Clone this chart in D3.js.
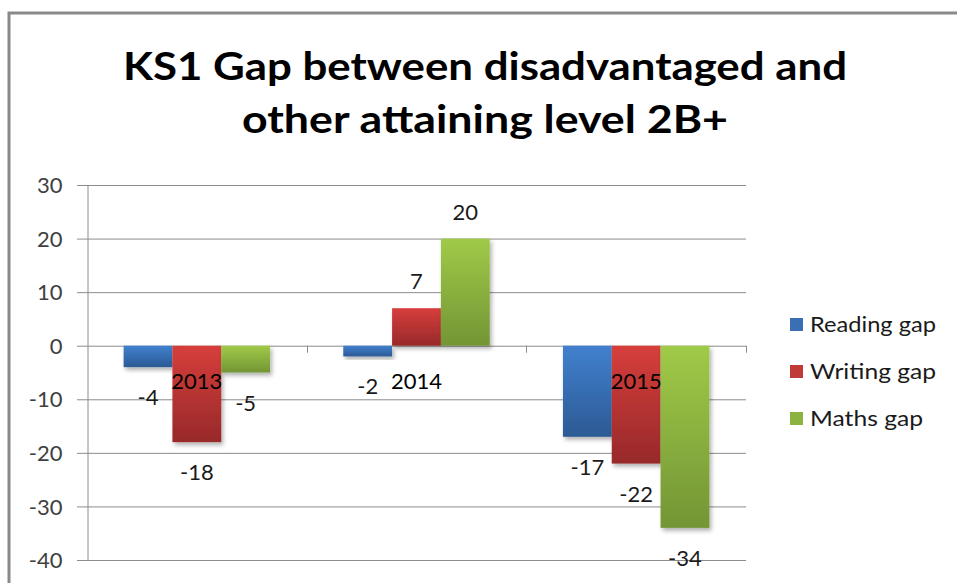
<!DOCTYPE html>
<html>
<head>
<meta charset="utf-8">
<script src="https://cdn.jsdelivr.net/npm/d3@7/dist/d3.min.js"></script>
<style>
  html, body { margin: 0; padding: 0; background: #fff; }
  svg { display: block; }
  text { font-family: Lato, "Open Sans", sans-serif; }
</style>
</head>
<body>
<svg id="chart" width="957" height="583"></svg>
<script>
const titleLines = ["KS1 Gap between disadvantaged and", "other attaining level 2B+"];
const categories = ["2013", "2014", "2015"];
const seriesNames = ["Reading gap", "Writing gap", "Maths gap"];
const readingGap = [-4, -2, -17];
const writingGap = [-18, 7, -22];
const mathsGap = [-5, 20, -34];
const yTicks = [30, 20, 10, 0, -10, -20, -30, -40];

const seriesValues = [readingGap, writingGap, mathsGap];
const colors = [
  { top: "#4180cf", bottom: "#2c5a94", legend: "#3a6fb5" },
  { top: "#d63e3b", bottom: "#98292a", legend: "#c03a37" },
  { top: "#a0ca48", bottom: "#739535", legend: "#8cb33f" }
];

const svg = d3.select("#chart");
const defs = svg.append("defs");
colors.forEach((c, i) => {
  const g = defs.append("linearGradient").attr("id", "grad" + i)
    .attr("x1", 0).attr("y1", 0).attr("x2", 0).attr("y2", 1);
  g.append("stop").attr("offset", "0%").attr("stop-color", c.top);
  g.append("stop").attr("offset", "100%").attr("stop-color", c.bottom);
});
const f = defs.append("filter").attr("id", "shadow")
  .attr("x", "-20%").attr("y", "-20%").attr("width", "150%").attr("height", "150%");
f.append("feDropShadow").attr("dx", 2).attr("dy", 3).attr("stdDeviation", 2)
  .attr("flood-color", "#000").attr("flood-opacity", 0.3);

// outer border
svg.append("path")
  .attr("d", "M9,583 V13 H957")
  .attr("fill", "none").attr("stroke", "#8a8a8a").attr("stroke-width", 3);

// title
const titleBaselines = [80, 133];
const titleWidths = [724, 486];
titleLines.forEach((t, i) => {
  svg.append("text")
    .attr("x", 485).attr("y", titleBaselines[i])
    .attr("text-anchor", "middle")
    .attr("font-size", 39).attr("font-weight", "bold")
    .attr("fill", "#000")
    .attr("textLength", titleWidths[i]).attr("lengthAdjust", "spacingAndGlyphs")
    .text(t);
});

const plotLeft = 87, plotRight = 746, plotTop = 185, plotBottom = 560;
const y = d3.scaleLinear().domain([-40, 30]).range([plotBottom, plotTop]);
const x0 = d3.scaleBand().domain(categories).range([plotLeft, plotRight]).padding(0);
const x1 = d3.scaleBand().domain(d3.range(3)).range([0, x0.bandwidth()])
  .paddingInner(0).paddingOuter(0.75);

// gridlines
svg.append("g").selectAll("line").data(yTicks).join("line")
  .attr("x1", plotLeft - 10).attr("x2", plotRight)
  .attr("y1", d => y(d) + 0.5).attr("y2", d => y(d) + 0.5)
  .attr("stroke", "#8c8c8c").attr("stroke-width", 1);

// bars
const groups = svg.append("g").selectAll("g").data(categories).join("g")
  .attr("transform", d => `translate(${x0(d)},0)`);
groups.selectAll("rect")
  .data((d, ci) => seriesValues.map((vals, si) => ({ si, v: vals[ci] })))
  .join("rect")
  .attr("x", d => x1(d.si))
  .attr("width", x1.bandwidth())
  .attr("y", d => Math.min(y(d.v), y(0)))
  .attr("height", d => Math.abs(y(d.v) - y(0)))
  .attr("fill", d => `url(#grad${d.si})`)
  .attr("filter", "url(#shadow)");

// y axis
const yAxis = d3.axisLeft(y).tickValues(yTicks).tickSize(0).tickPadding(0)
  .tickFormat(d => String(d));
const ya = svg.append("g").attr("transform", `translate(${plotLeft + 0.5},0)`).call(yAxis);
ya.select(".domain").attr("stroke", "#8c8c8c");
ya.selectAll("text")
  .attr("x", -25).attr("dy", "0.35em")
  .attr("font-family", "Lato, 'Open Sans', sans-serif")
  .attr("font-size", 22).attr("fill", "#404040");

// category tick marks on the zero line
svg.append("g").selectAll("line")
  .data(categories.map(c => x0(c) + x0.bandwidth()))
  .join("line")
  .attr("x1", d => Math.round(d) + 0.5).attr("x2", d => Math.round(d) + 0.5)
  .attr("y1", y(0)).attr("y2", y(0) + 7)
  .attr("stroke", "#8c8c8c");

// data labels
groups.selectAll("text.dl")
  .data((d, ci) => seriesValues.map((vals, si) => ({ si, v: vals[ci] })))
  .join("text").attr("class", "dl")
  .attr("x", d => x1(d.si) + x1.bandwidth() / 2)
  .attr("y", d => d.v >= 0 ? y(d.v) - 19 : y(d.v) + 38)
  .attr("text-anchor", "middle")
  .attr("font-size", 22).attr("fill", "#1a1a1a")
  .text(d => String(d.v));

// category labels
svg.append("g").selectAll("text").data(categories).join("text")
  .attr("x", d => x0(d) + x0.bandwidth() / 2)
  .attr("y", y(0) + 43)
  .attr("text-anchor", "middle")
  .attr("font-size", 22).attr("fill", "#000")
  .text(d => d);

// legend
const legendWidths = [126, 126, 113];
const legend = svg.append("g").selectAll("g").data(seriesNames).join("g")
  .attr("transform", (d, i) => `translate(790,${318 + i * 47})`);
legend.append("rect").attr("width", 13).attr("height", 13)
  .attr("fill", (d, i) => colors[i].legend);
legend.append("text").attr("x", 20).attr("y", 14)
  .attr("font-size", 21).attr("fill", "#1a1a1a")
  .attr("textLength", (d, i) => legendWidths[i]).attr("lengthAdjust", "spacingAndGlyphs")
  .text(d => d);
</script>
</body>
</html>
